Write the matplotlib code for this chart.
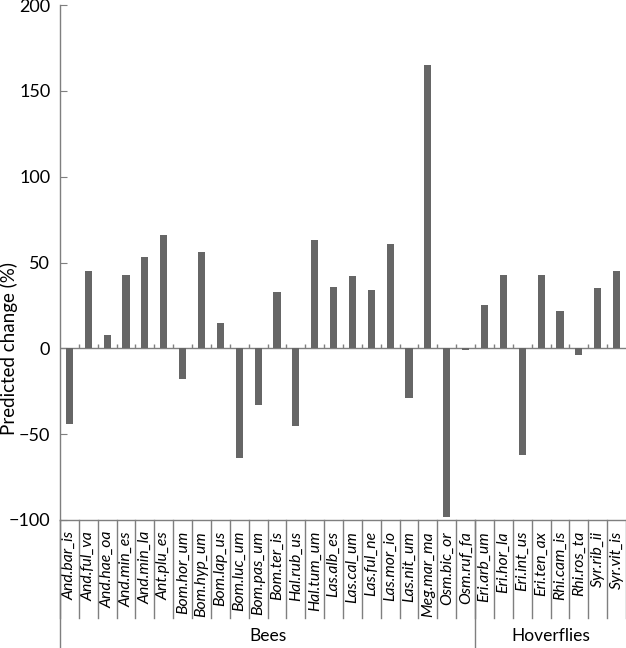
import numpy as np
import matplotlib
matplotlib.use("Agg")
import matplotlib.pyplot as plt

plt.rcParams['font.family'] = ['Lato', 'DejaVu Sans']

# species codes, bees first then hoverflies
bees = ["And.bar_is", "And.ful_va", "And.hae_oa", "And.min_es", "And.min_la",
        "Ant.plu_es", "Bom.hor_um", "Bom.hyp_um", "Bom.lap_us", "Bom.luc_um",
        "Bom.pas_um", "Bom.ter_is", "Hal.rub_us", "Hal.tum_um", "Las.alb_es",
        "Las.cal_um", "Las.ful_ne", "Las.mor_io", "Las.nit_um", "Meg.mar_ma",
        "Osm.bic_or", "Osm.ruf_fa"]
hoverflies = ["Eri.arb_um", "Eri.hor_la", "Eri.int_us", "Eri.ten_ax",
              "Rhi.cam_is", "Rhi.ros_ta", "Syr.rib_ii", "Syr.vit_is"]

bee_change = [-44, 45, 8, 43, 53, 66, -18, 56, 15, -64, -33, 33, -45, 63,
              36, 42, 34, 61, -29, 165, -98, -1]
hoverfly_change = [25, 43, -62, 43, 22, -4, 35, 45]

groups = ["Bees", "Hoverflies"]

species = bees + hoverflies
change = bee_change + hoverfly_change
n = len(species)
x = np.arange(n)

line_col = "#7f7f7f"

fig = plt.figure(figsize=(6.26, 6.48), dpi=100)
ax = fig.add_axes([60/626, 128/648, 566/626, 515/648])

ax.bar(x, change, width=0.38, color="#666666", zorder=3)

ax.set_xlim(-0.5, n - 0.5)
ax.set_ylim(-100, 200)
ax.set_yticks([-100, -50, 0, 50, 100, 150, 200])
ax.tick_params(axis='y', direction='in', length=5, color=line_col, labelsize=13, pad=7)
fig.text(9/626, 1 - 349/648, "Predicted change (%)", rotation=90,
         ha='center', va='center', fontsize=13.5)

ax.set_xticks(x)
ax.set_xticklabels(species, rotation=90, style='italic', fontsize=11.3)
ax.tick_params(axis='x', length=0, pad=8)

for s in ["top", "right"]:
    ax.spines[s].set_visible(False)
for s in ["left", "bottom"]:
    ax.spines[s].set_color(line_col)
    ax.spines[s].set_linewidth(1.0)

# zero line with small ticks between categories
ax.axhline(0, color=line_col, lw=1.0, zorder=2)
bounds = np.arange(n - 1) + 0.5
ax.vlines(bounds, 0, 2.5, color=line_col, lw=1.0, zorder=2)

# separators in the label area
trans = ax.get_xaxis_transform()
for b in np.arange(n + 1) - 0.5:
    ax.plot([b, b], [0, -0.19], color=line_col, lw=1.0, transform=trans, clip_on=False)
nb = len(bees)
for b in [-0.5, nb - 0.5]:
    ax.plot([b, b], [0, -0.26], color=line_col, lw=1.0, transform=trans, clip_on=False)

ax.text((nb - 1) / 2, -0.225, groups[0], transform=trans, ha='center', va='center', fontsize=12.5)
ax.text(nb + (len(hoverflies) - 1) / 2, -0.225, groups[1], transform=trans,
        ha='center', va='center', fontsize=12.5)

fig.savefig("out.png", dpi=100)
